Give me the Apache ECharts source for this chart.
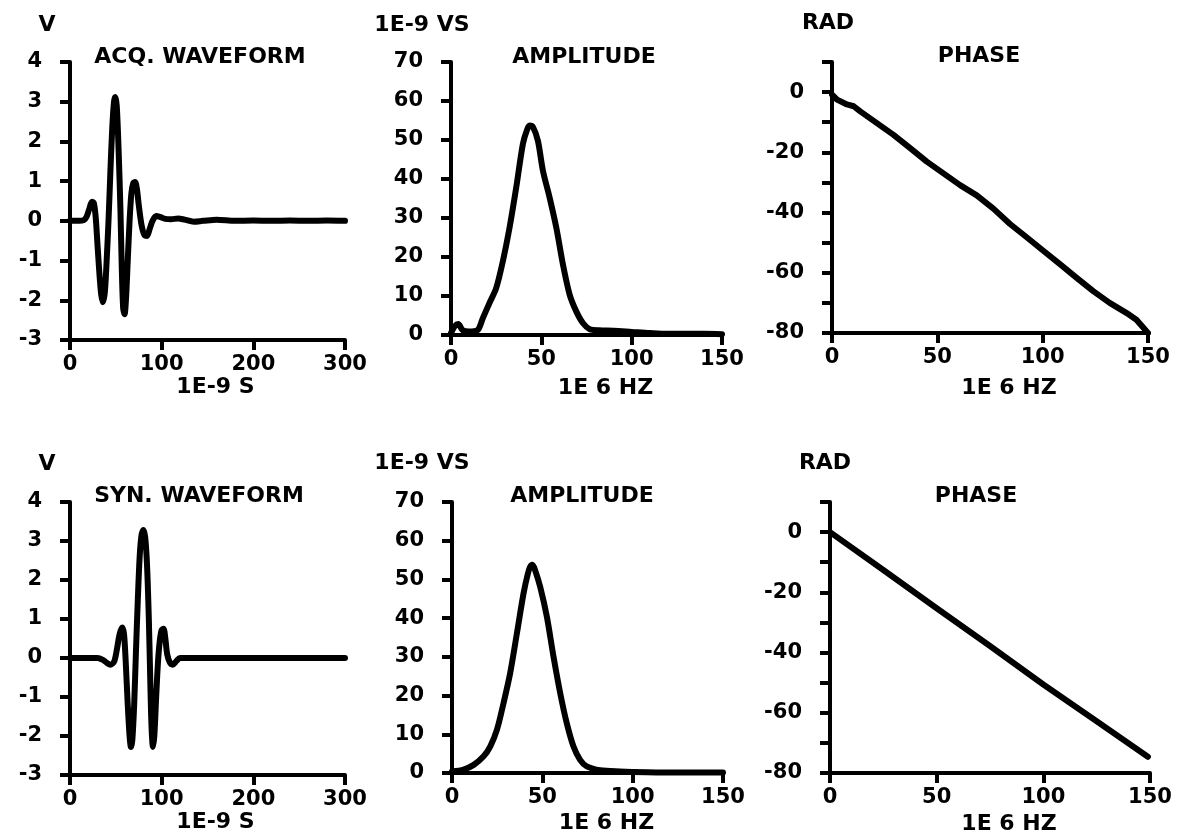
<!DOCTYPE html>
<html><head><meta charset="utf-8">
<script src="https://cdn.jsdelivr.net/npm/echarts@6/dist/echarts.min.js"></script>
<style>html,body{margin:0;padding:0;background:#fff}#c{width:1183px;height:838px}</style>
</head><body><div id="c"></div><script>
// ---- data ----
const acqT = [0,5,10,15,18,21,24,26,28,30,32,34,36,38,40,42,44,46,48,49.5,51,53,55,56.5,58,59.5,61,63,65,67,69,71,73,75,78,81,84,87,90,94,98,104,110,118,125,135,145,160,180,200,220,240,260,280,300];
const acqV = [0,0,0,0.02,0.1,0.3,0.48,0.45,0.1,-0.6,-1.3,-1.85,-2.05,-1.8,-1.0,0,1.2,2.3,3.0,3.12,2.9,1.8,0.3,-1.2,-2.2,-2.35,-2.0,-1.0,0,0.7,0.95,0.98,0.8,0.4,-0.1,-0.35,-0.38,-0.2,0,0.12,0.1,0.05,0.04,0.06,0.03,-0.02,0,0.03,0,0.01,0,0.01,0,0.01,0];
const synT = [0,20,30,36,40,44,48,51,54,57,59,61,63,65,66.5,68,70,72,74,76,78,80,82,84,86,87.5,89,90.5,92,94,96,98,100,102,104,106,109,112,116,120,140,160,180,200,220,240,260,280,300];
const synV = [0,0,0,-0.05,-0.12,-0.17,-0.1,0.2,0.6,0.78,0.6,-0.2,-1.2,-2.0,-2.28,-2.1,-1.2,0.2,1.5,2.6,3.15,3.28,3.1,2.4,1.0,-0.5,-1.8,-2.28,-2.0,-1.0,-0.1,0.45,0.72,0.75,0.5,0.1,-0.12,-0.17,-0.08,0,0,0,0,0,0,0,0,0,0];
const ampTopF = [0,2,4,6.5,10,14.8,17.6,21.3,25,28.7,32.4,36.1,39.8,42,43.5,45.4,48.1,50.9,54.6,58.3,62,65.7,69.4,73.1,76.8,82,90,100,110,120,130,140,150];
const ampTopA = [0.5,2.2,2.8,1.2,0.9,1.3,4.3,8.2,12,18.9,27.5,37.8,49,52.5,53.7,53.3,49.8,42.1,35.2,27.5,18,10.3,6,3,1.5,1.2,1.1,0.8,0.5,0.3,0.3,0.3,0.2];
const ampBotF = [0,6.4,12,17.5,21.2,24.9,28.5,32.2,35.9,39.6,42,43.3,44.5,46,48.8,52.5,56.2,59.9,63.5,67.2,70.9,74.6,82,93,108,125,150];
const ampBotA = [0.4,0.9,2.1,4.3,6.9,11.2,18,25.8,36,46.4,51.5,53.3,53.8,52.4,48.1,40.4,30,20.6,12.9,6.9,3.4,1.7,0.7,0.4,0.2,0.1,0.1];
const phTopF = [0,2.4,7.1,10.3,13.4,21.3,29.2,37.1,45,52.9,60.8,68.7,76.6,84.5,92.4,100.3,108.2,116,124,131.8,139.7,144.5,150];
const phTopR = [-0.8,-2.5,-4.1,-4.7,-6.4,-10.3,-14.2,-18.6,-23.1,-27,-30.9,-34.3,-38.7,-43.8,-48.2,-52.7,-57.1,-61.6,-66.1,-70,-73.3,-75.6,-80];
const phBotF = [0,25,50,75,100,125,149];
const phBotR = [0,-12.6,-25.3,-37.8,-50.6,-62.8,-74.6];

const panelTitles = ['ACQ. WAVEFORM','AMPLITUDE','PHASE','SYN. WAVEFORM','AMPLITUDE','PHASE'];
const unitLabels = ['V','1E-9 VS','RAD','V','1E-9 VS','RAD'];
const xNames = ['1E-9 S','1E 6 HZ','1E 6 HZ','1E-9 S','1E 6 HZ','1E 6 HZ'];

// ---- layout ----
const FF = '"DejaVu Sans", sans-serif';
const grids = [
  {left:70, top:62, width:275, height:278},
  {left:451, top:62, width:271, height:273},
  {left:832, top:62, width:316, height:271},
  {left:70, top:502, width:275, height:273},
  {left:452, top:502, width:271, height:271},
  {left:830, top:502, width:320, height:271}
].map(g => Object.assign({outerBoundsMode:'none', containLabel:false}, g));
const xCfg = [
  {min:0,max:300,interval:100,shift:8,gap:35},
  {min:0,max:150,interval:50,shift:19,gap:42},
  {min:0,max:150,interval:50,shift:19,gap:44},
  {min:0,max:300,interval:100,shift:8,gap:35},
  {min:0,max:150,interval:50,shift:19,gap:39},
  {min:0,max:150,interval:50,shift:19,gap:40}
];
const yCfg = [
  {min:-3,max:4,interval:1},
  {min:0,max:70,interval:10},
  {min:-80,max:10,interval:10,phase:true},
  {min:-3,max:4,interval:1},
  {min:0,max:70,interval:10},
  {min:-80,max:10,interval:10,phase:true}
];
const axisLineStyle = {color:'#000', width:4};
const series = [
  [acqT, acqV, 0.3], [ampTopF, ampTopA, 0.3], [phTopF, phTopR, 0],
  [synT, synV, 0.3], [ampBotF, ampBotA, 0.3], [phBotF, phBotR, 0]
];

const option = {
  backgroundColor:'#fff',
  animation:false,
  grid: grids,
  xAxis: xCfg.map((c,i)=>({
    type:'value', gridIndex:i, min:c.min, max:c.max, interval:c.interval,
    name:xNames[i], nameLocation:'middle', nameGap:c.gap,
    nameTextStyle:{color:'#000', fontFamily:FF, fontWeight:'bold', fontSize:22, padding:[0,0,0,c.shift*2]},
    axisLine:{show:true, onZero:false, lineStyle:axisLineStyle},
    axisTick:{show:true, length:10, lineStyle:axisLineStyle},
    splitLine:{show:false},
    axisLabel:{color:'#000', fontFamily:FF, fontWeight:'bold', fontSize:21, margin:14, showMinLabel:true, showMaxLabel:true, hideOverlap:false}
  })),
  yAxis: yCfg.map((c,i)=>({
    type:'value', gridIndex:i, min:c.min, max:c.max, interval:c.interval,
    axisLine:{show:true, onZero:false, lineStyle:axisLineStyle},
    axisTick:{show:true, length:10, lineStyle:axisLineStyle},
    splitLine:{show:false},
    axisLabel:{color:'#000', fontFamily:FF, fontWeight:'bold', fontSize:21, margin:28, showMinLabel:true, showMaxLabel:true, hideOverlap:false,
      formatter: c.phase ? (v => (v % 20 === 0 && v <= 0) ? String(v) : '') : (v => String(v))}
  })),
  series: series.map((s,i)=>({
    type:'line', xAxisIndex:i, yAxisIndex:i, showSymbol:false, smooth:s[2],
    data: s[0].map((x,k)=>[x, s[1][k]]),
    lineStyle:{color:'#000', width:6, cap:'round', join:'round'},
    clip:false
  })),
  graphic: []
};

const titlePos = [[200,57],[584,57],[979,56],[199,496],[582,496],[976,496]];
const unitPos = [[47,25],[422,25],[828,23],[47,464],[422,463],[825,463]];
function txt(t, p, size){
  return {type:'text', x:p[0], y:p[1], silent:true,
    style:{text:t, font:'bold '+size+'px '+FF, fill:'#000', align:'center', verticalAlign:'middle', textAlign:'center', textVerticalAlign:'middle'}};
}
panelTitles.forEach((t,i)=>option.graphic.push(txt(t, titlePos[i], 22)));
unitLabels.forEach((t,i)=>option.graphic.push(txt(t, unitPos[i], 22)));

const chart = echarts.init(document.getElementById('c'), null, {renderer:'canvas'});
chart.setOption(option);
</script></body></html>
